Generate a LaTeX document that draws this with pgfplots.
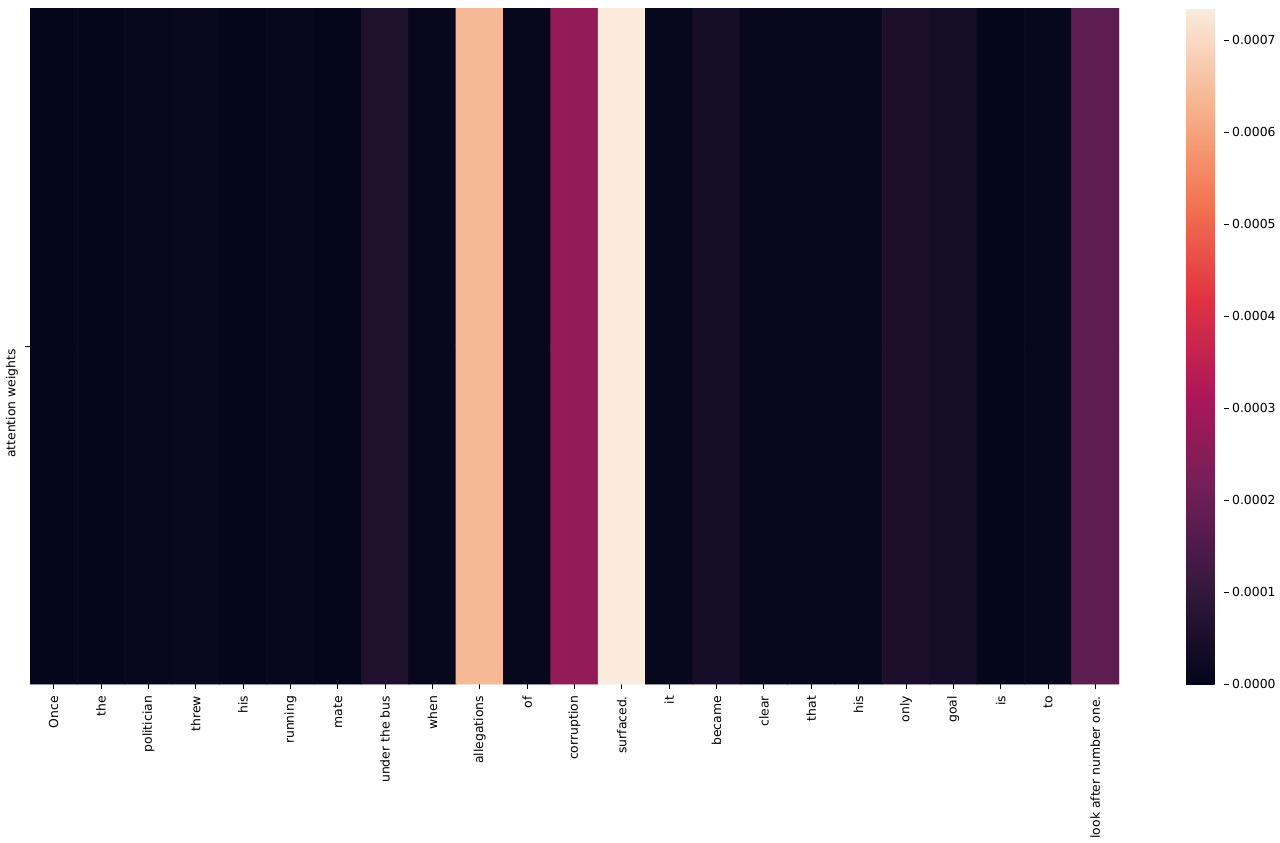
\documentclass[border=0pt]{standalone}
\usepackage{pgfplots}
\pgfplotsset{compat=1.18}
\usepackage{fontspec}
\setmainfont{DejaVu Sans}
\pgfplotsset{
  colormap={rocket}{
    rgb255(0)=(3,5,26);
    rgb255(1)=(53,25,62);
    rgb255(2)=(112,31,87);
    rgb255(3)=(173,23,89);
    rgb255(4)=(225,51,66);
    rgb255(5)=(243,118,81);
    rgb255(6)=(246,180,143);
    rgb255(7)=(250,235,221)
  }
}
\begin{document}
\begin{tikzpicture}
\useasboundingbox (0,0) rectangle (640pt,-421pt);
\begin{axis}[
  at={(15pt,-4pt)}, anchor=north west,
  scale only axis, width=544.5pt, height=338pt,
  xmin=-0.5, xmax=22.5, ymin=-0.5, ymax=1.5,
  axis line style={draw=none},
  tick align=outside, major tick length=2.5pt,
  tick style={black, line width=0.4pt},
  xtick pos=bottom, ytick pos=left,
  xtick={0,...,22},
  xticklabels={Once,the,politician,threw,his,running,mate,under the bus,when,allegations,of,corruption,surfaced.,it,became,clear,that,his,only,goal,is,to,look after number one.},
  xticklabel style={rotate=90, anchor=east},
  ytick={0.5}, yticklabels={attention weights},
  yticklabel style={rotate=90, anchor=south east, xshift=2pt},
  tick label style={font=\fontsize{6.2}{7}\selectfont},
  colormap name=rocket,
  point meta min=0, point meta max=0.000735,
  colorbar,
  colorbar style={
    at={(parent axis.north east)}, anchor=north west, xshift=25pt,
    width=19pt,
    axis line style={draw=none},
    ytick={0,0.0001,0.0002,0.0003,0.0004,0.0005,0.0006,0.0007},
    yticklabels={0.0000,0.0001,0.0002,0.0003,0.0004,0.0005,0.0006,0.0007},
    tick align=outside, major tick length=2.5pt,
    tick style={black, line width=0.4pt},
    ytick pos=right,
    yticklabel style={font=\fontsize{6.2}{7}\selectfont, xshift=-2pt},
    scaled y ticks=false,
  },
]
\addplot[matrix plot*, mesh/cols=23, mesh/rows=2, point meta=explicit] table[meta=w] {
x y w
0 0 0.000004
1 0 0.000005
2 0 0.000008
3 0 0.000015
4 0 0.000005
5 0 0.000008
6 0 0.000005
7 0 0.000058
8 0 0.000010
9 0 0.000640
10 0 0.000008
11 0 0.000268
12 0 0.000735
13 0 0.000008
14 0 0.000040
15 0 0.000010
16 0 0.000008
17 0 0.000008
18 0 0.000050
19 0 0.000040
20 0 0.000005
21 0 0.000008
22 0 0.000178
0 1 0.000004
1 1 0.000005
2 1 0.000008
3 1 0.000015
4 1 0.000005
5 1 0.000008
6 1 0.000005
7 1 0.000058
8 1 0.000010
9 1 0.000640
10 1 0.000008
11 1 0.000268
12 1 0.000735
13 1 0.000008
14 1 0.000040
15 1 0.000010
16 1 0.000008
17 1 0.000008
18 1 0.000050
19 1 0.000040
20 1 0.000005
21 1 0.000008
22 1 0.000178
};
\end{axis}
\end{tikzpicture}
\end{document}
